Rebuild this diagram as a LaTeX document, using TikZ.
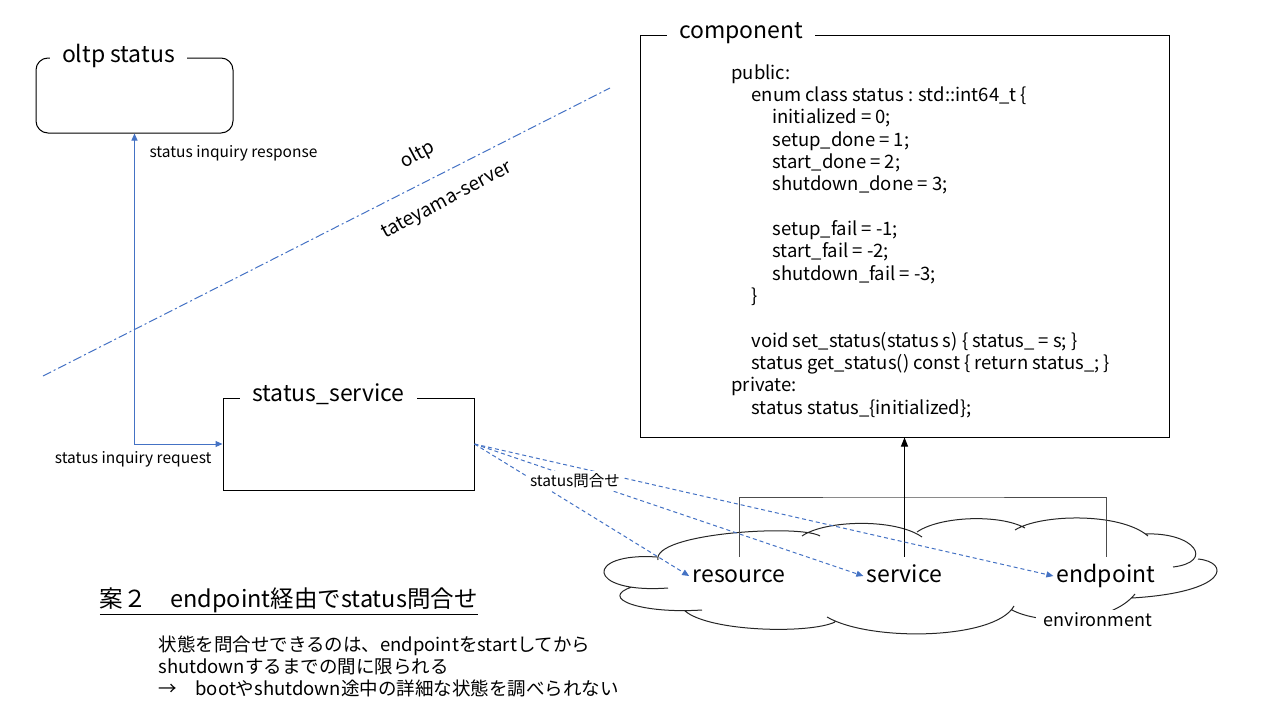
\documentclass[tikz,border=0pt]{standalone}
\usepackage{fontspec}
\setmainfont{Noto Sans CJK JP}
\usetikzlibrary{arrows.meta,positioning}
\definecolor{lineblue}{HTML}{4472C4}

\begin{document}
\begin{tikzpicture}[x=1pt,y=-1pt,line width=1pt]
	\useasboundingbox (0,0) rectangle (1280,720);
	\tikzset{boxtitle/.style={fill=white,inner xsep=12pt,inner ysep=1pt,anchor=base west,font=\fontsize{23}{27}\selectfont}} %titles sitting on the frames
	\tikzset{smalltext/.style={font=\fontsize{15.5}{18}\selectfont,inner sep=0pt}}
	\tikzset{cloudtext/.style={font=\fontsize{23}{27}\selectfont,anchor=base,inner xsep=3pt,inner ysep=9pt,text height=16pt,text depth=4pt}}
	\tikzset{query/.style={draw=lineblue,dashed,dash pattern=on 4pt off 3pt,-{Triangle[length=7pt,width=6pt]}}}
	% frames
	\node[draw,rounded corners=12pt,minimum width=197pt,minimum height=75pt] (oltp) at (134.5,95.5) {};
	\node[boxtitle] (oltptitle) at ([xshift=14pt,yshift=-5pt]oltp.north west) {oltp status};
	\node[draw,minimum width=251pt,minimum height=92pt] (svc) at (348.5,444) {};
	\node[boxtitle] (svctitle) at ([xshift=17pt,yshift=-4pt]svc.north west) {status\_service};
	\node[draw,minimum width=529pt,minimum height=402pt] (comp) at (904.5,236) {};
	\node[boxtitle] (comptitle) at ([xshift=27pt,yshift=-4pt]comp.north west) {component};
	\node[anchor=north west,align=left,inner sep=0pt,font=\fontsize{18.5}{22.33}\selectfont] (code) at (731,64) {public:\\
		\hspace*{20pt}enum class status : std::int64\_t \{\\
		\hspace*{41pt}initialized = 0;\\
		\hspace*{41pt}setup\_done = 1;\\
		\hspace*{41pt}start\_done = 2;\\
		\hspace*{41pt}shutdown\_done = 3;\\
		~\\
		\hspace*{41pt}setup\_fail = -1;\\
		\hspace*{41pt}start\_fail = -2;\\
		\hspace*{41pt}shutdown\_fail = -3;\\
		\hspace*{20pt}\}\\
		~\\
		\hspace*{20pt}void set\_status(status s) \{ status\_ = s; \}\\
		\hspace*{20pt}status get\_status() const \{ return status\_; \}\\
		private:\\
		\hspace*{20pt}status status\_\{initialized\};};
	% oltp / server boundary
	\coordinate (bl) at (43,376);
	\coordinate (tr) at (610,88);
	\draw[lineblue,dash pattern=on 9pt off 3pt on 2pt off 3pt] (bl) -- (tr);
	\node[rotate=28,font=\fontsize{19}{22}\selectfont] (oltplbl) at (418,155) {oltp};
	\node[rotate=28,font=\fontsize{19}{22}\selectfont] (serverlbl) at (447,201) {tateyama-server};
	% inquiry
	\draw[lineblue,{Triangle[length=7pt,width=6pt]}-{Triangle[length=7pt,width=6pt]}] (oltp.south) |- (svc.west);
	\node[smalltext,anchor=west] (resp) at (149,153) {status inquiry response};
	\node[smalltext,anchor=east] (req) at (212,459) {status inquiry request};
	% environment cloud, one lobe per curve
	\draw[black!85] (668,588) .. controls (585,594) and (584,552) .. (657,557)
		(658,560) .. controls (652,533) and (800,524) .. (820,536)
		(802,536) .. controls (825,520) and (895,518) .. (922,537)
		(917,532) .. controls (940,516) and (1000,514) .. (1025,528)
		(1015,530) .. controls (1040,514) and (1120,512) .. (1148,536)
		(1145,534) .. controls (1195,532) and (1215,562) .. (1173,567)
		(1198,559) .. controls (1230,562) and (1230,592) .. (1132,598)
		(1135,594) .. controls (1110,625) and (1040,625) .. (1012,610)
		(1014,606) .. controls (995,640) and (870,642) .. (827,617)
		(835,622) .. controls (810,634) and (710,632) .. (685,611)
		(702,610) .. controls (640,614) and (598,598) .. (632,587);
	\node[cloudtext] (res) at (739,582) {resource};
	\node[cloudtext] (srv) at (904.5,582) {service};
	\node[cloudtext] (ep) at (1106,582) {endpoint};
	\coordinate (join) at (904.5,497);
	\draw[black!70] (res.north) |- (join) -| (ep.north); %bracket
	\draw[-{Triangle[length=9pt,width=7pt]}] (srv.north) -- (comp.south);
	\node[fill=white,inner xsep=8pt,font=\fontsize{18}{21}\selectfont] (envlbl) at (1098,620) {environment};
	% status queries
	\draw[query] (svc.east) -- (res.west);
	\draw[query] (svc.east) -- (srv.west);
	\draw[query] (svc.east) -- (ep.west);
	\node[smalltext,fill=white,inner sep=3pt] (ask) at (575,481) {status問合せ};
	% notes
	\node[anchor=west,font=\fontsize{23.5}{27}\selectfont] (plan) at (96,601) {\underline{案２　endpoint経由でstatus問合せ}};
	\node[anchor=north west,align=left,inner sep=0pt,font=\fontsize{18.5}{22}\selectfont] (note) at (158,635) {状態を問合せできるのは、endpointをstartしてから\\shutdownするまでの間に限られる\\→　bootやshutdown途中の詳細な状態を調べられない};
\end{tikzpicture}
\end{document}
